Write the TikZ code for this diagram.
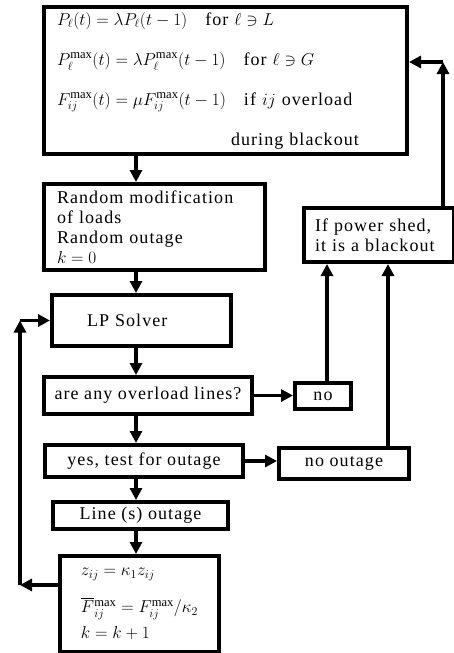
\documentclass[tikz,border=0pt]{standalone}
\usepackage{amsmath}
\usepackage{amssymb}
\usepackage{fontspec}
\setmainfont{Liberation Serif}[LetterSpace=6]
\usetikzlibrary{arrows.meta}

\begin{document}
\begin{tikzpicture}[x=1pt,y=1pt]
    \tikzstyle{every node}+=[inner sep=0pt, font=\fontsize{18}{20}\selectfont]
    \tikzstyle{box}=[draw=black, line width=4pt, anchor=north west]
    \tikzstyle{arr}=[draw=black, line width=3.5pt, -{Triangle[length=12pt,width=12pt]}]
    \useasboundingbox (0,0) rectangle (454,-653);
    % boxes
    \node [box, inner xsep=13pt, text width=337pt, minimum height=147pt, align=left] (upd) at (42,-5)
        {$P_\ell(t)=\lambda P_\ell(t-1)$\quad for $\ell\ni L$\\[20pt]
         $P_\ell^{\mathrm{max}}(t)=\lambda P_\ell^{\mathrm{max}}(t-1)$\quad for $\ell\ni G$\\[20pt]
         $F_{ij}^{\mathrm{max}}(t)=\mu F_{ij}^{\mathrm{max}}(t-1)$\quad if $ij$ overload\\[20pt]
         \hspace*{174pt}during blackout};
    \node [box, inner xsep=13pt, text width=195pt, minimum height=86pt, align=left] (rnd) at (42,-182)
        {Random modification\\ of loads\\ Random outage\\ $k=0$};
    \node [box, inner xsep=35pt, text width=109pt, minimum height=51pt, align=left] (lp) at (50,-293) {LP Solver};
    \node [box, minimum width=208pt, minimum height=37pt] (ovl) at (42,-375) {are any overload lines?};
    \node [box, minimum width=56pt, minimum height=26pt] (no) at (293,-381) {no};
    \node [box, inner xsep=11pt, text width=128pt, minimum height=54pt, align=left] (ifb) at (302,-206)
        {If power shed,\\ it is a blackout};
    \node [box, minimum width=198pt, minimum height=32pt] (yes) at (43,-443) {yes, test for outage};
    \node [box, minimum width=130pt, minimum height=31pt] (noout) at (277,-446) {no outage};
    \node [box, minimum width=175pt, minimum height=27pt] (line) at (51,-500) {Line (s) outage};
    \node [box, minimum width=159pt, minimum height=96pt, align=left] (upz) at (58,-554)
        {$z_{ij}=\kappa_1 z_{ij}$\\[16pt]
         $\overline{F}{}_{ij}^{\max}=F_{ij}^{\max}/\kappa_2$\\[6pt]
         $k=k+1$};
    % columns for the connectors
    \coordinate (spine) at (136,0);
    \coordinate (colno) at (327,0);
    \coordinate (colout) at (388,0);
    \coordinate (fbt) at (443,-62);
    \coordinate (fbb) at (20,-585);
    % main chain
    \draw [arr] (upd.south -| spine) -- (rnd.north -| spine);
    \draw [arr] (rnd.south -| spine) -- (lp.north -| spine);
    \draw [arr] (lp.south -| spine) -- (ovl.north -| spine);
    \draw [arr] (ovl.south -| spine) -- (yes.north -| spine);
    \draw [arr] (yes.south -| spine) -- (line.north -| spine);
    \draw [arr] (line.south -| spine) -- (upz.north -| spine);
    % side branches
    \draw [arr] (ovl.east) -- (ovl.east -| no.west);
    \draw [arr] (yes.east) -- (yes.east -| noout.west);
    \draw [arr] (no.north -| colno) -- (ifb.south -| colno);
    \draw [arr] (noout.north -| colout) -- (ifb.south -| colout);
    \draw [arr] (ifb.north -| fbt) -- (fbt);
    \draw [arr] (fbt) -- (fbt -| upd.east);
    % loop back
    \draw [arr] (upz.west |- fbb) -- (fbb);
    \draw [arr] (fbb) -- (fbb |- lp.west);
    \draw [arr] (fbb |- lp.west) -- (lp.west);
\end{tikzpicture}
\end{document}
